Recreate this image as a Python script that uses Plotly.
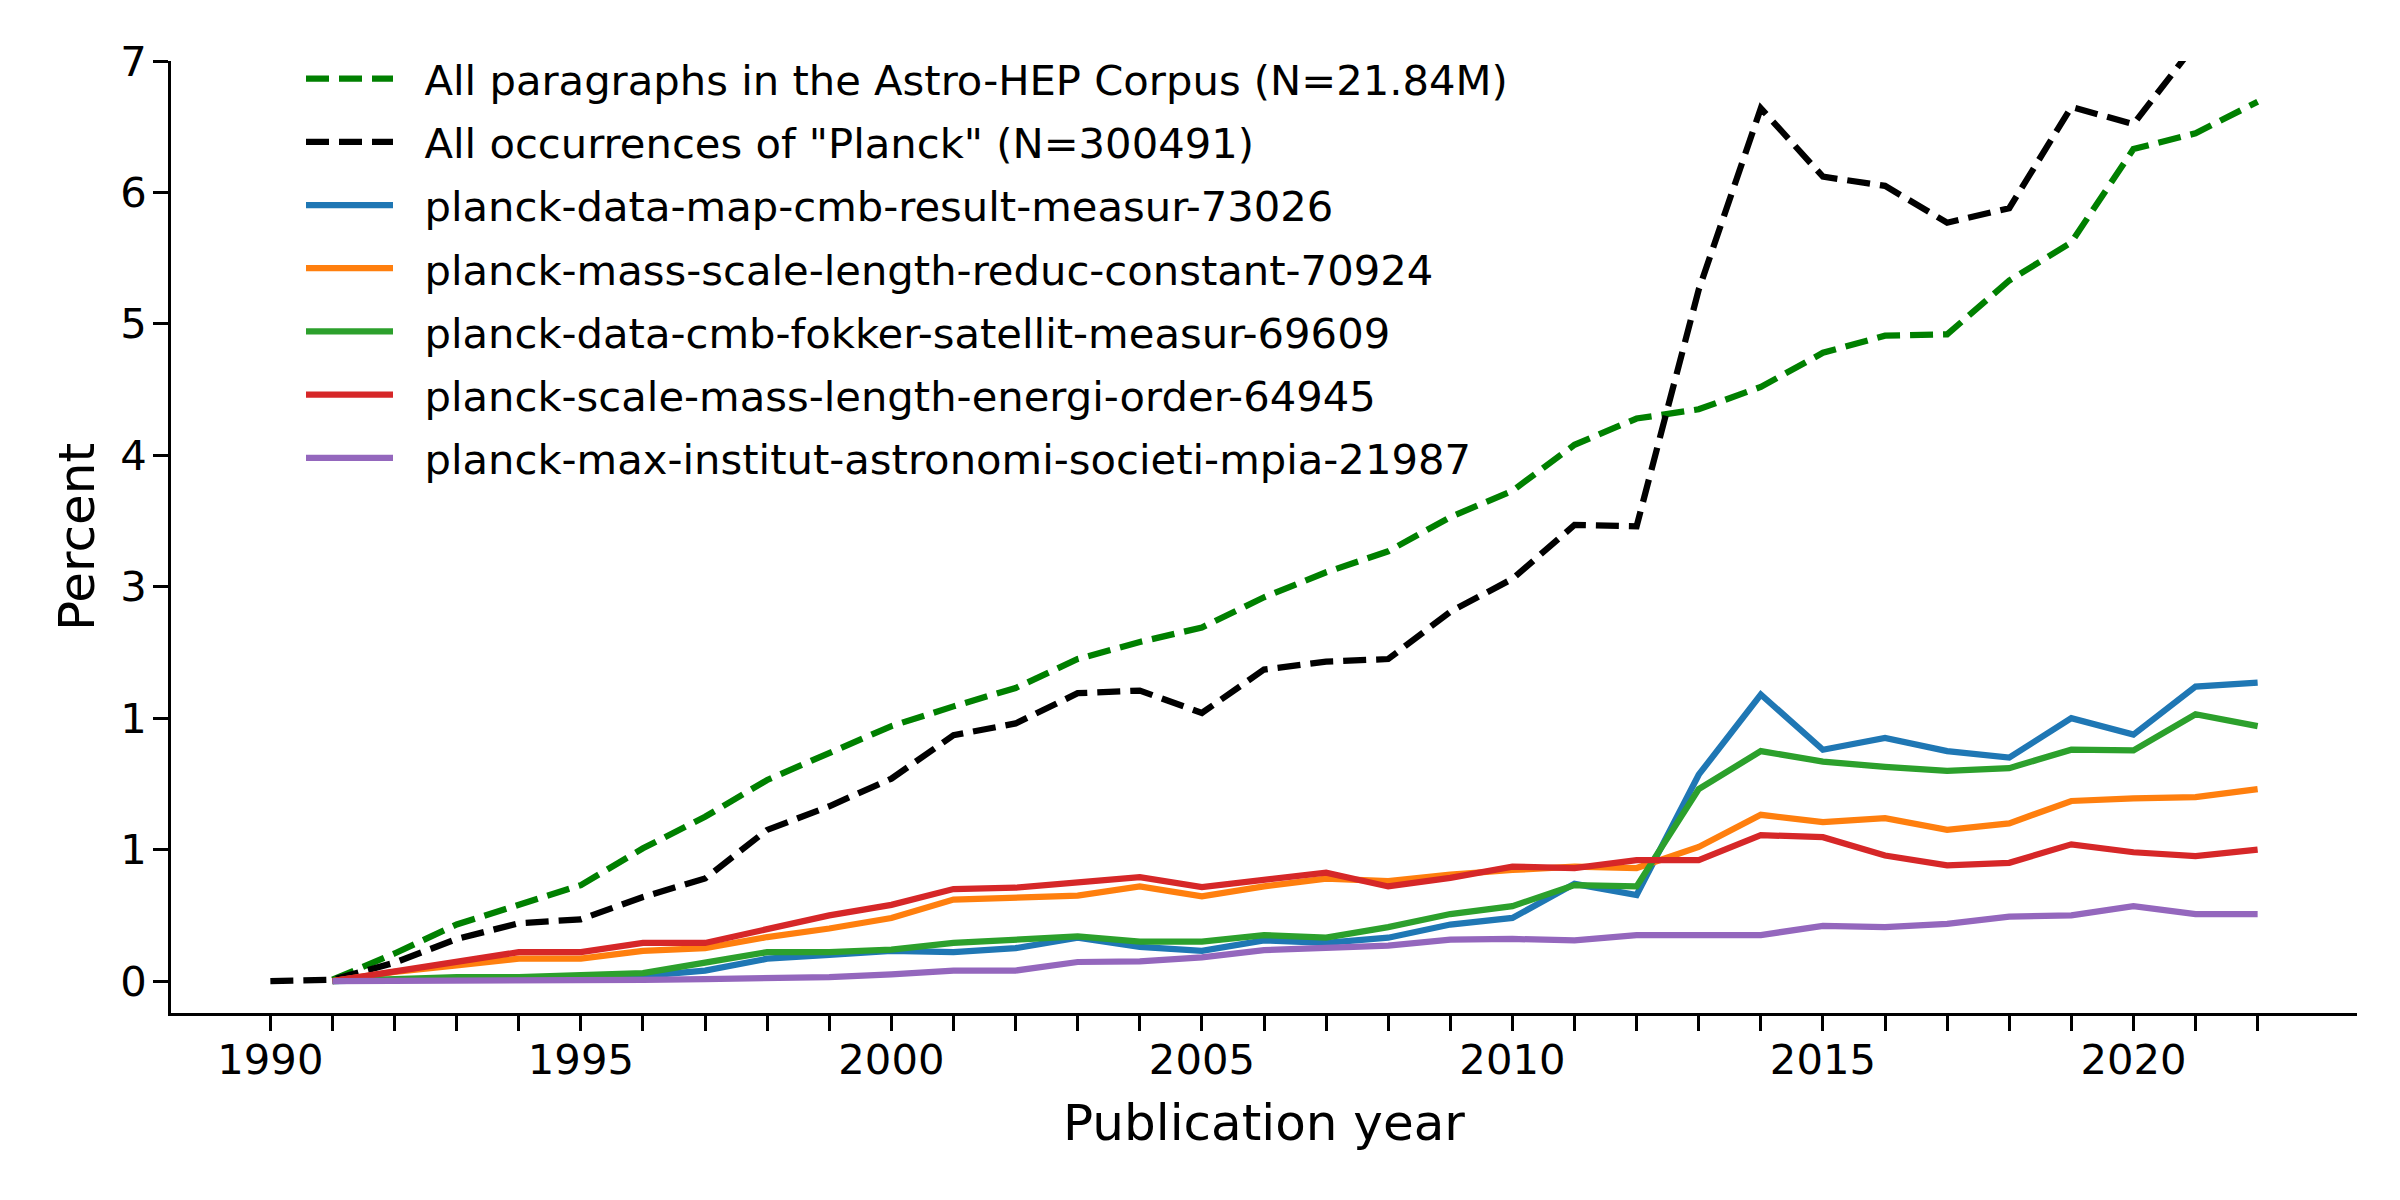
import plotly.graph_objects as go

# ---------------- data ----------------
years = list(range(1990, 2023))          # 1990 .. 2022
years_topics = years[1:]                 # topic series start in 1991

corpus_all = [0.00, 0.01, 0.21, 0.43, 0.58, 0.73, 1.01, 1.25, 1.53, 1.73, 1.94,
              2.09, 2.23, 2.45, 2.58, 2.69, 2.92, 3.11, 3.27, 3.53, 3.73,
              4.08, 4.28, 4.35, 4.52, 4.78, 4.91, 4.92, 5.33, 5.62, 6.33,
              6.45, 6.69]
planck_all = [0.00, 0.01, 0.14, 0.32, 0.44, 0.47, 0.64, 0.78, 1.15, 1.33, 1.54,
              1.87, 1.96, 2.19, 2.21, 2.04, 2.37, 2.43, 2.45, 2.81, 3.06,
              3.47, 3.46, 5.26, 6.64, 6.12, 6.05, 5.77, 5.88, 6.65, 6.52,
              7.13, 7.50]

topic_map_cmb = [0.00, 0.01, 0.02, 0.02, 0.03, 0.04, 0.08, 0.17, 0.20, 0.23,
                 0.22, 0.25, 0.33, 0.26, 0.23, 0.31, 0.29, 0.33, 0.43, 0.48,
                 0.74, 0.655, 1.57, 2.18, 1.76, 1.85, 1.75, 1.70, 2.00, 1.875,
                 2.24, 2.27]
topic_mass_scale = [0.00, 0.07, 0.12, 0.17, 0.17, 0.23, 0.25, 0.335, 0.40, 0.48,
                    0.62, 0.64, 0.65, 0.72, 0.645, 0.72, 0.78, 0.76, 0.81, 0.845,
                    0.87, 0.86, 1.02, 1.265, 1.21, 1.24, 1.15, 1.20, 1.37, 1.39,
                    1.40, 1.46]
topic_fokker = [0.00, 0.02, 0.03, 0.03, 0.04, 0.06, 0.14, 0.22, 0.22, 0.24,
                0.29, 0.31, 0.34, 0.30, 0.30, 0.35, 0.33, 0.41, 0.51, 0.57,
                0.73, 0.72, 1.46, 1.75, 1.67, 1.63, 1.60, 1.62, 1.76, 1.755,
                2.03, 1.94]
topic_scale_energy = [0.00, 0.07, 0.15, 0.22, 0.22, 0.29, 0.29, 0.40, 0.50, 0.58,
                      0.70, 0.71, 0.75, 0.79, 0.715, 0.775, 0.825, 0.72, 0.785, 0.87,
                      0.86, 0.92, 0.92, 1.11, 1.095, 0.955, 0.88, 0.90, 1.04, 0.98,
                      0.95, 1.00]
topic_mpia = [0.00, 0.00, 0.00, 0.00, 0.00, 0.01, 0.015, 0.02, 0.03, 0.05,
              0.08, 0.08, 0.145, 0.15, 0.18, 0.235, 0.25, 0.27, 0.315, 0.32,
              0.31, 0.35, 0.35, 0.35, 0.42, 0.41, 0.435, 0.49, 0.50, 0.57,
              0.51, 0.51]

names = [
    "All paragraphs in the Astro-HEP Corpus (N=21.84M)",
    'All occurrences of "Planck" (N=300491)',
    "planck-data-map-cmb-result-measur-73026",
    "planck-mass-scale-length-reduc-constant-70924",
    "planck-data-cmb-fokker-satellit-measur-69609",
    "planck-scale-mass-length-energi-order-64945",
    "planck-max-institut-astronomi-societi-mpia-21987",
]

y_tickvals = [0, 1, 2, 3, 4, 5, 6, 7]
y_ticktext = ["0", "1", "1", "3", "4", "5", "6", "7"]
x_ticktext = [str(y) if y % 5 == 0 else "" for y in years]

# ---------------- style ----------------
FONT = "DejaVu Sans"
LW = 6.25
DASH = "23px,10px"
GAP = "\u00a0\u00a0"   # spacing between legend handle and label

series = [
    (years[1:], corpus_all[1:], "#008000", DASH),
    (years, planck_all, "#000000", DASH),
    (years_topics, topic_map_cmb, "#1f77b4", "solid"),
    (years_topics, topic_mass_scale, "#ff7f0e", "solid"),
    (years_topics, topic_fokker, "#2ca02c", "solid"),
    (years_topics, topic_scale_energy, "#d62728", "solid"),
    (years_topics, topic_mpia, "#9467bd", "solid"),
]

fig = go.Figure()
for i, ((xs, ys, col, dash), nm) in enumerate(zip(series, names)):
    fig.add_trace(go.Scatter(
        x=xs, y=ys, mode="lines", name=GAP + nm,
        legendgroup=f"g{i}",
        line=dict(color=col, width=LW, dash=dash),
        hoverinfo="skip",
    ))

# the page body adds an 8px offset; margins compensate for it
W, H = 2400, 1200
L, R, T, B = 163, 51, 53, 195
PW, PH = W - L - R, H - T - B

fig.update_layout(
    width=W, height=H,
    margin=dict(l=L, r=R, t=T, b=B, autoexpand=False),
    paper_bgcolor="white", plot_bgcolor="white",
    font=dict(family=FONT, size=41.7, color="black"),
    showlegend=True,
    legend=dict(
        x=(293 - L) / PW, y=1.0 - (37 - T) / PH,
        xanchor="left", yanchor="top",
        bgcolor="rgba(0,0,0,0)", borderwidth=0,
        font=dict(family=FONT, size=41.7, color="black"),
        tracegroupgap=6, itemwidth=87,
    ),
    xaxis=dict(
        range=[1988.4, 2023.6],
        tickmode="array", tickvals=years, ticktext=x_ticktext,
        ticks="outside", ticklen=14.6, tickwidth=3.33, tickcolor="black",
        showline=True, linewidth=3.33, linecolor="black",
        showgrid=False, zeroline=False,
        tickfont=dict(family=FONT, size=41.7, color="black"),
        title=dict(text="Publication year", font=dict(family=FONT, size=50, color="black"), standoff=23),
        ticklabelstandoff=-7,
    ),
    yaxis=dict(
        range=[-0.243, 7.0],
        tickmode="array", tickvals=y_tickvals, ticktext=y_ticktext,
        ticks="outside", ticklen=14.6, tickwidth=3.33, tickcolor="black",
        showline=True, linewidth=3.33, linecolor="black",
        showgrid=False, zeroline=False,
        tickfont=dict(family=FONT, size=41.7, color="black"),
        title=dict(text="Percent", font=dict(family=FONT, size=50, color="black"), standoff=10),
        ticklabelstandoff=-2,
    ),
)

fig.write_html("out.html")
